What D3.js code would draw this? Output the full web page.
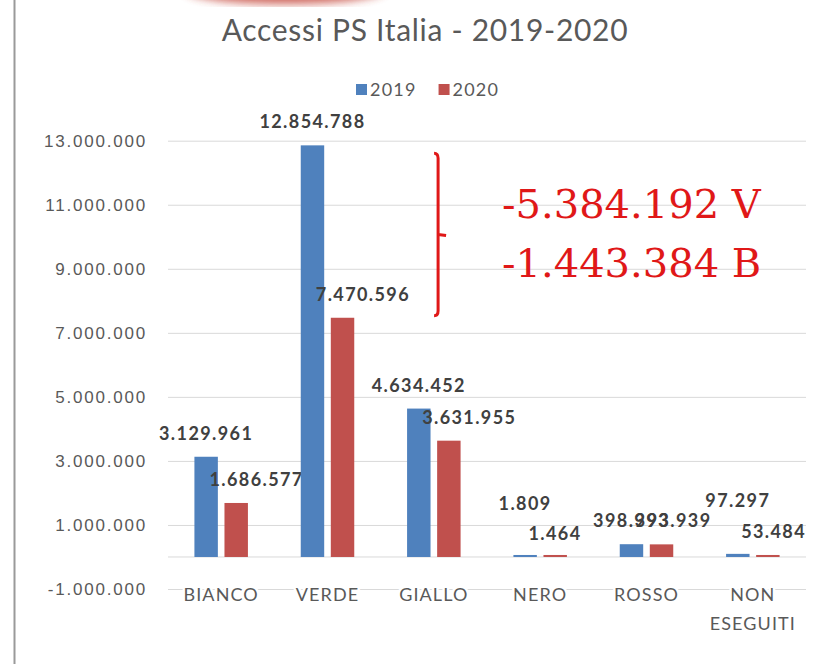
<!DOCTYPE html>
<html>
<head>
<meta charset="utf-8">
<script src="https://cdn.jsdelivr.net/npm/d3@7"></script>
<style>
  body { margin: 0; background: #fff; }
  svg { display: block; font-family: Lato, "Open Sans", sans-serif; }
</style>
</head>
<body>
<svg id="chart" width="820" height="664"></svg>
<script>
// Accessi PS Italia, per codice colore
var categories = ["BIANCO", "VERDE", "GIALLO", "NERO", "ROSSO", "NON ESEGUITI"];
var years = ["2019", "2020"];
var values2019 = [3129961, 12854788, 4634452, 1809, 398993, 97297];
var values2020 = [1686577, 7470596, 3631955, 1464, 393939, 53484];
var yTicks = [-1000000, 1000000, 3000000, 5000000, 7000000, 9000000, 11000000, 13000000];

var colors = { "2019": "#4f81bd", "2020": "#c0504d" };

var locale = d3.formatLocale({ decimal: ",", thousands: ".", grouping: [3], currency: ["€", ""], minus: "-" });
var fmt = locale.format(",d");

var svg = d3.select("#chart");
var W = +svg.attr("width"), H = +svg.attr("height");

var data = categories.map(function(c, i) {
  return { cat: c, values: [
    { year: "2019", value: values2019[i] },
    { year: "2020", value: values2020[i] }
  ] };
});

// glow left over from the screenshot at the top
var defs = svg.append("defs");
defs.append("filter").attr("id", "blur")
  .append("feGaussianBlur").attr("stdDeviation", 4);
svg.append("ellipse")
  .attr("cx", 285).attr("cy", -10).attr("rx", 100).attr("ry", 14)
  .attr("fill", "#c0392b").attr("opacity", 0.75)
  .attr("filter", "url(#blur)");

// left border of the chart area
svg.append("line")
  .attr("x1", 14.5).attr("x2", 14.5).attr("y1", 0).attr("y2", H)
  .attr("stroke", "#9a9a9a").attr("stroke-width", 2);

var x0 = d3.scaleBand().domain(categories).range([168, 806]);
var x1 = d3.scaleBand().domain(years)
  .range([x0.bandwidth() / 2 - 26.75, x0.bandwidth() / 2 + 26.75])
  .paddingInner(0.22);
var y = d3.scaleLinear().domain([-1000000, 13000000]).range([589, 140.7]);

// title
svg.append("text")
  .attr("x", 425).attr("y", 41)
  .attr("text-anchor", "middle")
  .attr("font-size", 30).attr("fill", "#595959").attr("letter-spacing", 0.7)
  .text("Accessi PS Italia - 2019-2020");

// legend
var legend = svg.append("g").attr("transform", "translate(0,90)");
var lx = 356;
years.forEach(function(yr) {
  legend.append("rect").attr("x", lx).attr("y", -6).attr("width", 11).attr("height", 11)
    .attr("fill", colors[yr]);
  var t = legend.append("text").attr("x", lx + 14).attr("y", 6)
    .attr("font-size", 18).attr("letter-spacing", 1.2).attr("fill", "#595959").text(yr);
  lx += 14 + t.node().getComputedTextLength() + 22;
});

// gridlines + y labels
var yAxis = d3.axisLeft(y).tickValues(yTicks).tickSize(-(x0.range()[1] - x0.range()[0]))
  .tickFormat(fmt).tickPadding(21);
var gy = svg.append("g").attr("transform", "translate(" + x0.range()[0] + ",0)").call(yAxis);
gy.select(".domain").remove();
gy.selectAll(".tick line").attr("stroke", "#d9d9d9");
gy.selectAll(".tick text").attr("font-size", 17).attr("fill", "#595959")
  .attr("font-family", null).attr("letter-spacing", 1.8);

// zero line
svg.append("line")
  .attr("x1", x0.range()[0]).attr("x2", x0.range()[1])
  .attr("y1", y(0)).attr("y2", y(0))
  .attr("stroke", "#d9d9d9");

// category labels
var cats = svg.append("g");
categories.forEach(function(c) {
  var t = cats.append("text")
    .attr("x", x0(c) + x0.bandwidth() / 2).attr("y", 601)
    .attr("text-anchor", "middle").attr("font-size", 18).attr("fill", "#595959")
    .attr("letter-spacing", 1.1)
    .attr("stroke", "#fff").attr("stroke-width", 5).attr("paint-order", "stroke");
  c.split(" ").forEach(function(w, i) {
    t.append("tspan").attr("x", x0(c) + x0.bandwidth() / 2).attr("dy", i ? 29 : 0).text(w);
  });
});

// bars
var groups = svg.selectAll("g.cat").data(data).join("g")
  .attr("class", "cat")
  .attr("transform", function(d) { return "translate(" + x0(d.cat) + ",0)"; });

groups.selectAll("rect").data(function(d) { return d.values; }).join("rect")
  .attr("x", function(d) { return x1(d.year); })
  .attr("width", x1.bandwidth())
  .attr("y", function(d) { return Math.min(y(d.value), y(0) - 2); })
  .attr("height", function(d) { return Math.max(y(0) - y(d.value), 2); })
  .attr("fill", function(d) { return colors[d.year]; });

// data labels: 2019 centred above the bar, 2020 starting a bit left of its bar
groups.each(function(d) {
  var g = d3.select(this);
  var a = d.values[0], b = d.values[1];
  var ya = y(a.value) - 17, yb = y(b.value) - 17;
  // bars almost flat: lift the 2019 label clear of the 2020 one
  if (y(0) - y(a.value) < 5 && Math.abs(ya - yb) < 14) ya -= 30;
  g.append("text")
    .attr("x", x1(a.year) + x1.bandwidth() / 2).attr("y", ya)
    .attr("text-anchor", "middle")
    .text(fmt(a.value));
  g.append("text")
    .attr("x", x1(b.year) - 15).attr("y", yb)
    .attr("text-anchor", "start")
    .text(fmt(b.value));
  g.selectAll("text").attr("font-size", 18).attr("font-weight", "bold")
    .attr("fill", "#404040").attr("letter-spacing", 1.4);
});

// red annotation: drop of VERDE and BIANCO
var vi = categories.indexOf("VERDE"), bi = categories.indexOf("BIANCO");
var bTop = y(values2019[vi]) + 8, bBot = y(values2020[vi]) - 2, bMid = (bTop + bBot) / 2;
var bx = x0("GIALLO") + x0.bandwidth() * 0.54;
svg.append("path")
  .attr("d", "M" + (bx - 4) + "," + bTop + " Q" + bx + "," + bTop + " " + bx + "," + (bTop + 5) +
    " L" + bx + "," + (bBot - 5) + " Q" + bx + "," + bBot + " " + (bx - 4) + "," + bBot +
    " M" + bx + "," + bMid + " L" + (bx + 8) + "," + (bMid + 1))
  .attr("fill", "none").attr("stroke", "#e01818").attr("stroke-width", 3);

var notes = [
  fmt(values2020[vi] - values2019[vi]) + " V",
  fmt(values2020[bi] - values2019[bi]) + " B"
];
notes.forEach(function(n, i) {
  svg.append("text")
    .attr("x", 502).attr("y", 218 + i * 59)
    .style("font-family", "'DejaVu Serif', serif")
    .attr("font-size", 40).attr("fill", "#e01818")
    .text(n);
});
</script>
</body>
</html>
